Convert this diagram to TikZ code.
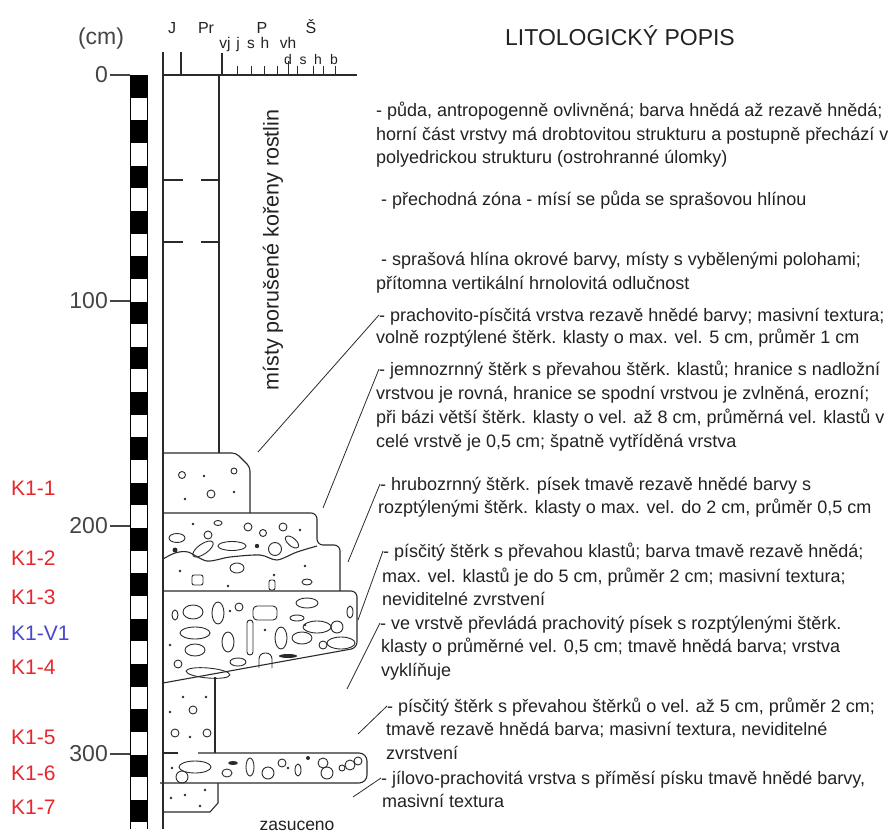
\documentclass[tikz,border=0pt]{standalone}
\usepackage{fontspec}
\setmainfont{Liberation Sans}
\definecolor{txt}{HTML}{222222}
\definecolor{dgray}{HTML}{444444}
\definecolor{lnc}{HTML}{2A2A2A}
\definecolor{sred}{HTML}{E8262C}
\definecolor{sblue}{HTML}{4646D2}
\newcommand\pebl[5]{\draw[peb,rotate around={#5:(#1,#2)}] (#1,#2) ellipse [x radius=#3,y radius=#4];}
\newcommand\sdot[2]{\fill[lnc] (#1,#2) circle[radius=1.4];}
\newcommand\pcirc[3]{\draw[peb] (#1,#2) circle[radius=#3];}
\begin{document}
\begin{tikzpicture}[x=1pt,y=-1pt,
  desc/.style={anchor=base west,inner sep=0pt,font=\fontsize{18}{21}\selectfont,text=txt},
  samp/.style={anchor=west,inner sep=0pt,font=\fontsize{21}{24}\selectfont},
  dlab/.style={anchor=east,inner sep=0pt,font=\fontsize{23}{26}\selectfont,text=dgray},
  hdr/.style={anchor=base,inner sep=0pt,font=\fontsize{16}{18}\selectfont,text=txt},
  hdrm/.style={anchor=base,inner sep=0pt,font=\fontsize{15.5}{18}\selectfont,text=txt},
  hdrs/.style={anchor=base,inner sep=0pt,font=\fontsize{14}{16}\selectfont,text=txt},
  lead/.style={line width=0.8pt,draw=lnc},
  bnd/.style={line width=1.1pt,draw=lnc},
  peb/.style={line width=0.9pt,draw=lnc},
]
\useasboundingbox (0,0) rectangle (891,837);

% ---------- title ----------
\node[inner sep=0pt,font=\fontsize{23}{26}\selectfont,text=txt] (title) at (620,36) {LITOLOGICKÝ POPIS};

% ---------- depth scale ----------
\node[inner sep=0pt,font=\fontsize{23}{26}\selectfont,text=dgray] (cm) at (101,39) {(cm)};
\foreach \i in {0,2,...,32} {\fill (130,{75+22.65*\i}) rectangle (147,{75+22.65*(\i+1)});}
\draw[line width=0.9pt] (130,829) -- (130,75) -- (147,75) -- (147,829);
\foreach \yy/\lab/\nm in {75/0/d0,301/100/d1,526/200/d2,754/300/d3} {
  \draw[line width=1.2pt,dgray] (110,\yy) -- (130,\yy);
  \node[dlab] (\nm) at (108,\yy) {\lab};
}

% ---------- sample labels ----------
\node[samp,text=sred] (k11) at (11,488) {K1-1};
\node[samp,text=sred] (k12) at (11,558) {K1-2};
\node[samp,text=sred] (k13) at (11,597) {K1-3};
\node[samp,text=sblue] (k1v) at (11,633) {K1-V1};
\node[samp,text=sred] (k14) at (11,667) {K1-4};
\node[samp,text=sred] (k15) at (11,737) {K1-5};
\node[samp,text=sred] (k16) at (11,773) {K1-6};
\node[samp,text=sred] (k17) at (11,807) {K1-7};

% ---------- header of the column ----------
\draw[bnd] (163,75) -- (357,75);
\draw[bnd] (163,52) -- (163,75);
\draw[bnd] (181,52) -- (181,75);
\draw[bnd] (222,53) -- (222,75);
\foreach \xx in {237,251,264,277,297,313,323,335} {\draw[line width=0.8pt,lnc] (\xx,66) -- (\xx,75);}
\draw[line width=0.9pt,lnc] (288,61) -- (288,75);
\node[hdr] (hJ) at (172,34) {J};
\node[hdr] (hPr) at (206,34) {Pr};
\node[hdr] (hP) at (262,34) {P};
\node[hdr] (hS) at (311,34) {Š};
\node[hdrm] (hvj) at (225,49) {vj};
\node[hdrm] (hj) at (238,49) {j};
\node[hdrm] (hs) at (251,49) {s};
\node[hdrm] (hh) at (265,49) {h};
\node[hdrm] (hvh) at (288,49) {vh};
\node[hdrs] (hd) at (288,65) {d};
\node[hdrs] (hs2) at (303,65) {s};
\node[hdrs] (hh2) at (318,65) {h};
\node[hdrs] (hb) at (334,65) {b};

% ---------- column ----------
\draw[bnd] (163,75) -- (163,829);
\draw[bnd] (219,75) -- (219,453);
\draw[bnd] (163,180) -- (183,180) (201,180) -- (219,180);
\draw[bnd] (163,242) -- (183,242) (201,242) -- (219,242);
\node[rotate=90,inner sep=0pt,font=\fontsize{21.5}{24}\selectfont,text=txt] (roots) at (273,250) {místy porušené kořeny rostlin};

% layer 1
\draw[bnd,rounded corners=4pt] (163,453) -- (236,453) -- (250,467) -- (250,513);
\pcirc{182}{475}{3.5} \sdot{204}{476} \pcirc{234}{471}{3} \pcirc{211}{494}{4} \sdot{185}{499} \sdot{234}{492}
% layer 2 and 3
\draw[bnd,rounded corners=6pt] (163,513) -- (317,513) -- (317,545) -- (340,545) -- (340,591);
\draw[bnd] plot[smooth] coordinates {(163,559) (175,553) (188,552) (207,561) (230,557) (260,555) (277,560) (297,552) (317,546)};
\pebl{177}{538}{8}{4.5}{0}
\pebl{203}{549}{12}{5}{35}
\pebl{232}{546}{14}{4.5}{0}
\pcirc{275}{549}{6.5}
\pebl{292}{542}{8}{4}{-40}
\fill[lnc] (175,550) circle[radius=2.5];
\fill[lnc] (257,546) circle[radius=2.2];
\sdot{193}{524} \pcirc{208}{535}{4} \pebl{218}{523}{4}{2.5}{0} \pcirc{248}{527}{4} \pcirc{263}{533}{3.5} \pcirc{283}{527}{4} \sdot{300}{530}
\pebl{237}{568}{7}{5}{0}
\draw[peb,rounded corners=2pt] (192,575) rectangle (203,585);
\draw[peb,rounded corners=2pt] (269,580) rectangle (275,590);
\pebl{307}{582}{5}{3}{0}
\sdot{180}{571} \sdot{228}{586} \sdot{274}{575} \sdot{305}{566}
% layer 4
\draw[bnd,rounded corners=6pt] (163,591) -- (357,591) -- (357,648) -- (163,683);
\pebl{175}{615}{3}{5}{0}
\pebl{193}{612}{10}{7}{0}
\pebl{218}{613}{6}{11}{0}
\pcirc{239}{607}{4}
\draw[peb,rounded corners=4pt] (253,606) rectangle (277,620);
\draw[peb,rounded corners=3pt] (247,620) rectangle (253,655);
\pebl{307}{603}{11}{5}{0}
\pebl{297}{618}{7}{3}{0}
\pebl{317}{627}{14}{6}{0}
\pcirc{337}{627}{6}
\pebl{350}{612}{3}{6}{0}
\pebl{195}{633}{15}{6}{0}
\pebl{195}{650}{10}{6}{0}
\pebl{228}{642}{6}{10}{0}
\pebl{281}{638}{6}{11}{0}
\pebl{302}{638}{10}{6}{0}
\draw[peb,rounded corners=6pt] (259,668) -- (259,653) -- (272,653) -- (272,668);
\pebl{238}{662}{8}{4}{0}
\fill[lnc] (288,656) ellipse [x radius=9,y radius=2];
\pebl{341}{643}{14}{6}{0}
\pcirc{323}{645}{4}
\pcirc{178}{664}{4}
\pebl{208}{673}{22}{5}{-5}
\sdot{230}{611} \sdot{305}{625} \sdot{265}{630} \sdot{170}{645}
% layer 5
\draw[bnd,rounded corners=3pt] (215,677) -- (215,753);
\sdot{183}{697} \sdot{206}{697} \pcirc{193}{710}{4} \sdot{170}{712} \pcirc{175}{733}{4} \pcirc{207}{733}{4} \sdot{190}{737}
\draw[bnd] (163,753) -- (178,753);
% layer 6
\draw[bnd,rounded corners=8pt] (198,753) -- (367,753) -- (367,783) -- (160,783);
\pebl{195}{767}{16}{6}{0}
\pcirc{182}{777}{6}
\pebl{227}{773}{5}{4}{0}
\fill[lnc] (233,763) ellipse [x radius=5,y radius=2];
\pebl{250}{767}{4}{9}{0}
\pcirc{268}{773}{6} \pcirc{282}{763}{4}
\sdot{288}{768}
\pebl{298}{770}{3}{6}{0}
\fill[lnc] (308,758) circle[radius=2];
\pcirc{323}{763}{5} \pcirc{327}{773}{6}
\pcirc{342}{768}{3}
\pcirc{350}{765}{5} \pcirc{358}{761}{4}
\sdot{172}{768}
% layer 7
\draw[bnd] (218,783) -- (218,803) -- (210,812) -- (163,812);
\sdot{171}{798} \sdot{185}{795} \sdot{205}{790} \sdot{200}{806}

\node[inner sep=0pt,font=\fontsize{17.5}{21}\selectfont,text=txt] (zas) at (297,826) {zasuceno};

% ---------- descriptions ----------
\node[desc] (b1a) at (376,117) {- půda, antropogenně ovlivněná; barva hnědá až rezavě hnědá;};
\node[desc] (b1b) at (376,141) {horní část vrstvy má drobtovitou strukturu a postupně přechází v};
\node[desc] (b1c) at (376,164) {polyedrickou strukturu (ostrohranné úlomky)};
\node[desc] (b2a) at (381,206) {- přechodná zóna - mísí se půda se sprašovou hlínou};
\node[desc] (b3a) at (381,265) {- sprašová hlína okrové barvy, místy s vybělenými polohami;};
\node[desc] (b3b) at (376,289) {přítomna vertikální hrnolovitá odlučnost};
\node[desc] (b4a) at (379,321) {- prachovito-písčitá vrstva rezavě hnědé barvy; masivní textura;};
\node[desc] (b4b) at (376,343) {volně rozptýlené štěrk. klasty o max. vel. 5 cm, průměr 1 cm};
\node[desc] (b5a) at (379,375) {- jemnozrnný štěrk s převahou štěrk. klastů; hranice s nadložní};
\node[desc] (b5b) at (376,399) {vrstvou je rovná, hranice se spodní vrstvou je zvlněná, erozní;};
\node[desc] (b5c) at (376,423) {při bázi větší štěrk. klasty o vel. až 8 cm, průměrná vel. klastů v};
\node[desc] (b5d) at (376,447) {celé vrstvě je 0,5 cm; špatně vytříděná vrstva};
\node[desc] (b6a) at (380,490) {- hrubozrnný štěrk. písek tmavě rezavě hnědé barvy s};
\node[desc] (b6b) at (378,513) {rozptýlenými štěrk. klasty o max. vel. do 2 cm, průměr 0,5 cm};
\node[desc] (b7a) at (383,557) {- písčitý štěrk s převahou klastů; barva tmavě rezavě hnědá;};
\node[desc] (b7b) at (382,582) {max. vel. klastů je do 5 cm, průměr 2 cm; masivní textura;};
\node[desc] (b7c) at (382,605) {neviditelné zvrstvení};
\node[desc] (b8a) at (380,629) {- ve vrstvě převládá prachovitý písek s rozptýlenými štěrk.};
\node[desc] (b8b) at (381,652) {klasty o průměrné vel. 0,5 cm; tmavě hnědá barva; vrstva};
\node[desc] (b8c) at (381,676) {vyklíňuje};
\node[desc] (b9a) at (387,712) {- písčitý štěrk s převahou štěrků o vel. až 5 cm, průměr 2 cm;};
\node[desc] (b9b) at (386,735) {tmavě rezavě hnědá barva; masivní textura, neviditelné};
\node[desc] (b9c) at (386,759) {zvrstvení};
\node[desc] (b10a) at (381,784) {- jílovo-prachovitá vrstva s příměsí písku tmavě hnědé barvy,};
\node[desc] (b10b) at (382,807) {masivní textura};

% ---------- leader lines ----------
\coordinate (p1) at (258,452);
\coordinate (p2) at (323,508);
\coordinate (p3) at (348,562);
\coordinate (p4) at (358,620);
\coordinate (p5) at (347,689);
\coordinate (p6) at (358,734);
\coordinate (p7) at (353,797);
\draw[lead] (p1) -- ([yshift=6pt]b4a.base west);
\draw[lead] (p2) -- ([yshift=6pt]b5a.base west);
\draw[lead] (p3) -- ([yshift=6pt]b6a.base west);
\draw[lead] (p4) -- ([yshift=6pt]b7a.base west);
\draw[lead] (p5) -- ([yshift=6pt]b8a.base west);
\draw[lead] (p6) -- ([yshift=6pt]b9a.base west);
\draw[lead] (p7) -- ([yshift=6pt]b10a.base west);
\end{tikzpicture}
\end{document}
